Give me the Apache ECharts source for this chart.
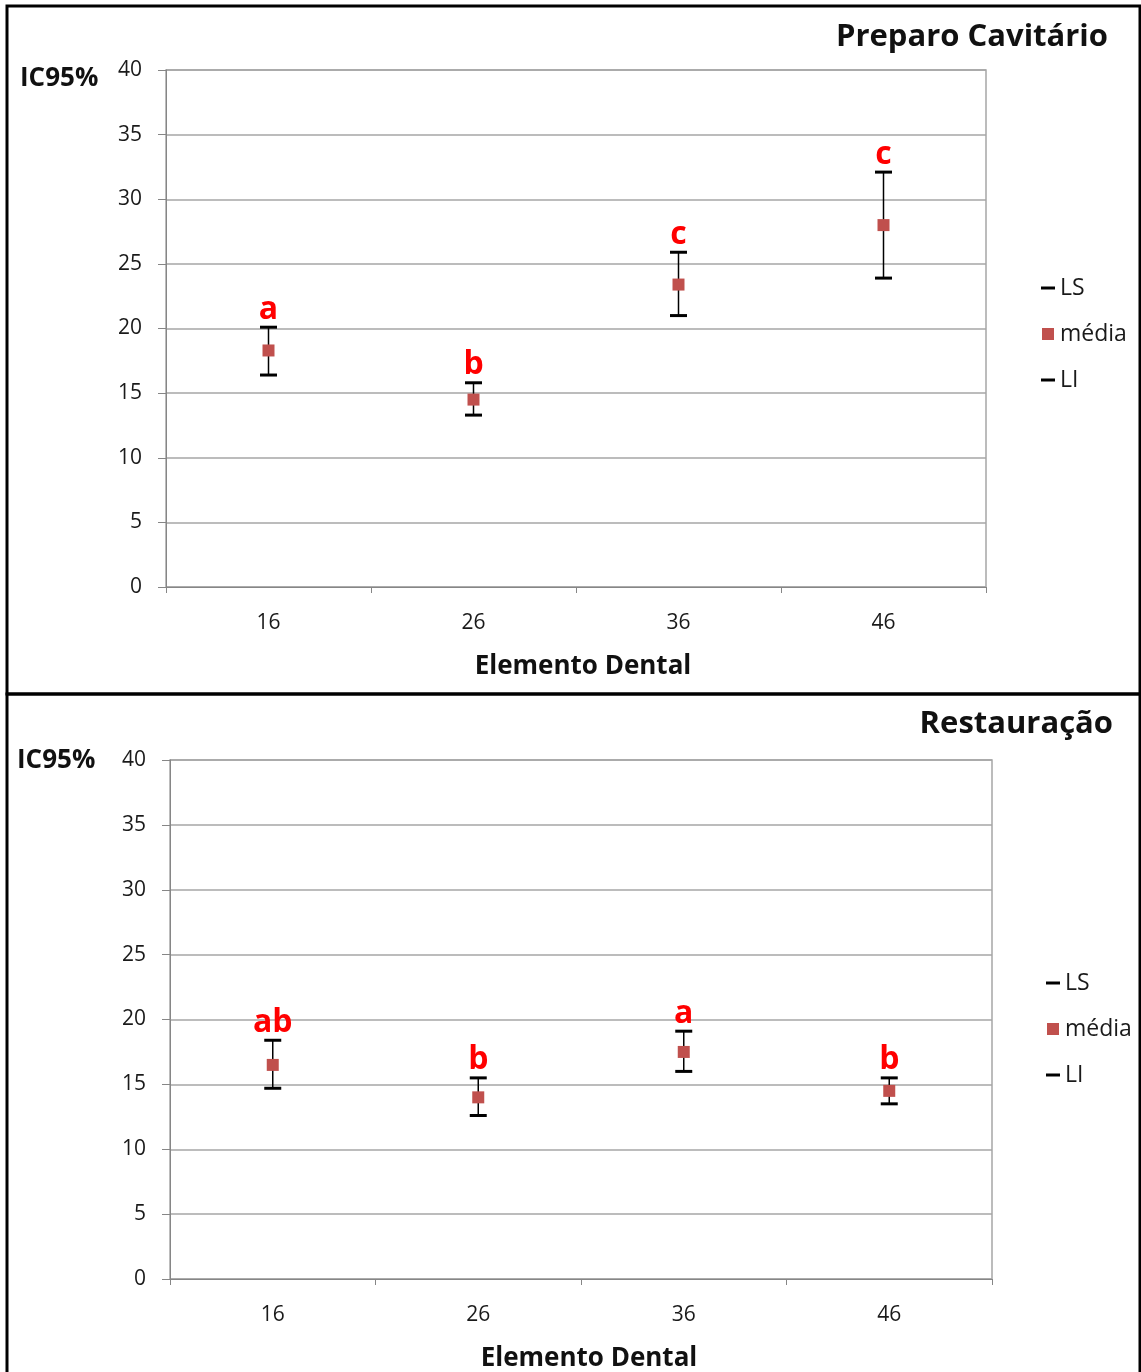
<!DOCTYPE html>
<html><head><meta charset="utf-8">
<script src="https://cdn.jsdelivr.net/npm/echarts@6/dist/echarts.min.js"></script>
<style>html,body{margin:0;padding:0;background:#fff}#c{width:1141px;height:1372px}</style>
</head><body><div id="c"></div>
<script>
const categories = ['16', '26', '36', '46'];
const topLS = [20.1, 15.8, 25.9, 32.1];
const topMean = [18.3, 14.5, 23.4, 28.0];
const topLI = [16.4, 13.3, 21.0, 23.9];
const topLetters = ['a', 'b', 'c', 'c'];
const botLS = [18.4, 15.5, 19.1, 15.5];
const botMean = [16.5, 14.0, 17.5, 14.5];
const botLI = [14.7, 12.6, 16.0, 13.5];
const botLetters = ['ab', 'b', 'a', 'b'];
const yMin = 0, yMax = 40, yStep = 5;

const FONT = '"Open Sans", Lato, sans-serif';
const RED = '#C0504D';
const chart = echarts.init(document.getElementById('c'));

function xAxisFor(gi) {
  return {
    type: 'category', gridIndex: gi, data: categories, boundaryGap: true,
    axisLine: { lineStyle: { color: '#868686', width: 1 } },
    axisTick: { show: true, length: 6, alignWithLabel: false, lineStyle: { color: '#868686' } },
    axisLabel: { color: '#1a1a1a', fontSize: 21, fontFamily: FONT, margin: 26 },
    splitLine: { show: false }
  };
}
function yAxisFor(gi) {
  return {
    type: 'value', gridIndex: gi, min: yMin, max: yMax, interval: yStep,
    axisLine: { show: true, lineStyle: { color: '#868686', width: 1 } },
    axisTick: { show: true, length: 8, lineStyle: { color: '#868686' } },
    axisLabel: { color: '#1a1a1a', fontSize: 21, fontFamily: FONT, margin: 24 },
    splitLine: { show: true, lineStyle: { color: '#A6A6A6', width: 1.5 } }
  };
}
function seriesFor(gi, ls, mean, li, letters) {
  const bars = categories.map((c, i) => [i, li[i], ls[i]]);
  return [
    {
      type: 'custom', name: 'bar' + gi, xAxisIndex: gi, yAxisIndex: gi, z: 2,
      data: bars, encode: { x: 0, y: [1, 2] },
      renderItem: function (params, api) {
        const x = api.value(0);
        const a = api.coord([x, api.value(1)]);
        const b = api.coord([x, api.value(2)]);
        return { type: 'line', shape: { x1: a[0], y1: a[1], x2: b[0], y2: b[1] },
                 style: { stroke: '#000', lineWidth: 1.5 } };
      }
    },
    {
      type: 'scatter', name: 'LS', xAxisIndex: gi, yAxisIndex: gi, z: 3,
      data: ls, symbol: 'rect', symbolSize: [17, 3], itemStyle: { color: '#000', opacity: 1 },
      label: { show: true, position: 'top', distance: 0, color: '#FF0000', fontWeight: 'bold',
               fontSize: 32, fontFamily: FONT, formatter: p => letters[p.dataIndex] }
    },
    {
      type: 'scatter', name: 'média', xAxisIndex: gi, yAxisIndex: gi, z: 4,
      data: mean, symbol: 'rect', symbolSize: 12, itemStyle: { color: RED, opacity: 1 }
    },
    {
      type: 'scatter', name: 'LI', xAxisIndex: gi, yAxisIndex: gi, z: 3,
      data: li, symbol: 'rect', symbolSize: [17, 3], itemStyle: { color: '#000', opacity: 1 }
    }
  ];
}
function legendFor(left, top) {
  return {
    orient: 'vertical', left: left, top: top, itemGap: 22, itemWidth: 14, itemHeight: 12,
    symbolKeepAspect: true, selectedMode: false,
    textStyle: { fontSize: 23, lineHeight: 24, fontFamily: FONT, color: '#1a1a1a' },
    data: [
      { name: 'LS', icon: 'path://M0,0h14v3h-14z', itemStyle: { color: '#000' } },
      { name: 'média', icon: 'path://M0,0h10v10h-10z', itemStyle: { color: RED } },
      { name: 'LI', icon: 'path://M0,0h14v3h-14z', itemStyle: { color: '#000' } }
    ]
  };
}

const bold = (t, x, y, size, align) => ({
  type: 'text', x: x, y: y,
  style: { text: t, fontSize: size, fontWeight: 'bold', fontFamily: FONT, fill: '#111',
           textAlign: align, textVerticalAlign: 'middle' }
});

chart.setOption({
  animation: false,
  backgroundColor: '#fff',
  grid: [
    { left: 166, top: 70, width: 820, height: 517, show: true, borderColor: '#A6A6A6', borderWidth: 1.5 },
    { left: 170, top: 760, width: 822, height: 519, show: true, borderColor: '#A6A6A6', borderWidth: 1.5 }
  ],
  xAxis: [xAxisFor(0), xAxisFor(1)],
  yAxis: [yAxisFor(0), yAxisFor(1)],
  legend: [legendFor(1036, 271), legendFor(1041, 966)],
  series: [].concat(seriesFor(0, topLS, topMean, topLI, topLetters),
                    seriesFor(1, botLS, botMean, botLI, botLetters)),
  graphic: [
    { type: 'rect', shape: { x: 7, y: 6, width: 1133, height: 688 },
      style: { fill: 'none', stroke: '#000', lineWidth: 3 }, z: 100 },
    { type: 'rect', shape: { x: 7, y: 694, width: 1133, height: 720 },
      style: { fill: 'none', stroke: '#000', lineWidth: 3 }, z: 100 },
    bold('Preparo Cavitário', 1108, 37, 31, 'right'),
    bold('Restauração', 1113, 724, 31, 'right'),
    bold('IC95%', 20, 79, 26, 'left'),
    bold('IC95%', 17, 761, 26, 'left'),
    bold('Elemento Dental', 583, 667, 26, 'center'),
    bold('Elemento Dental', 589, 1359, 26, 'center')
  ]
});
</script></body></html>
